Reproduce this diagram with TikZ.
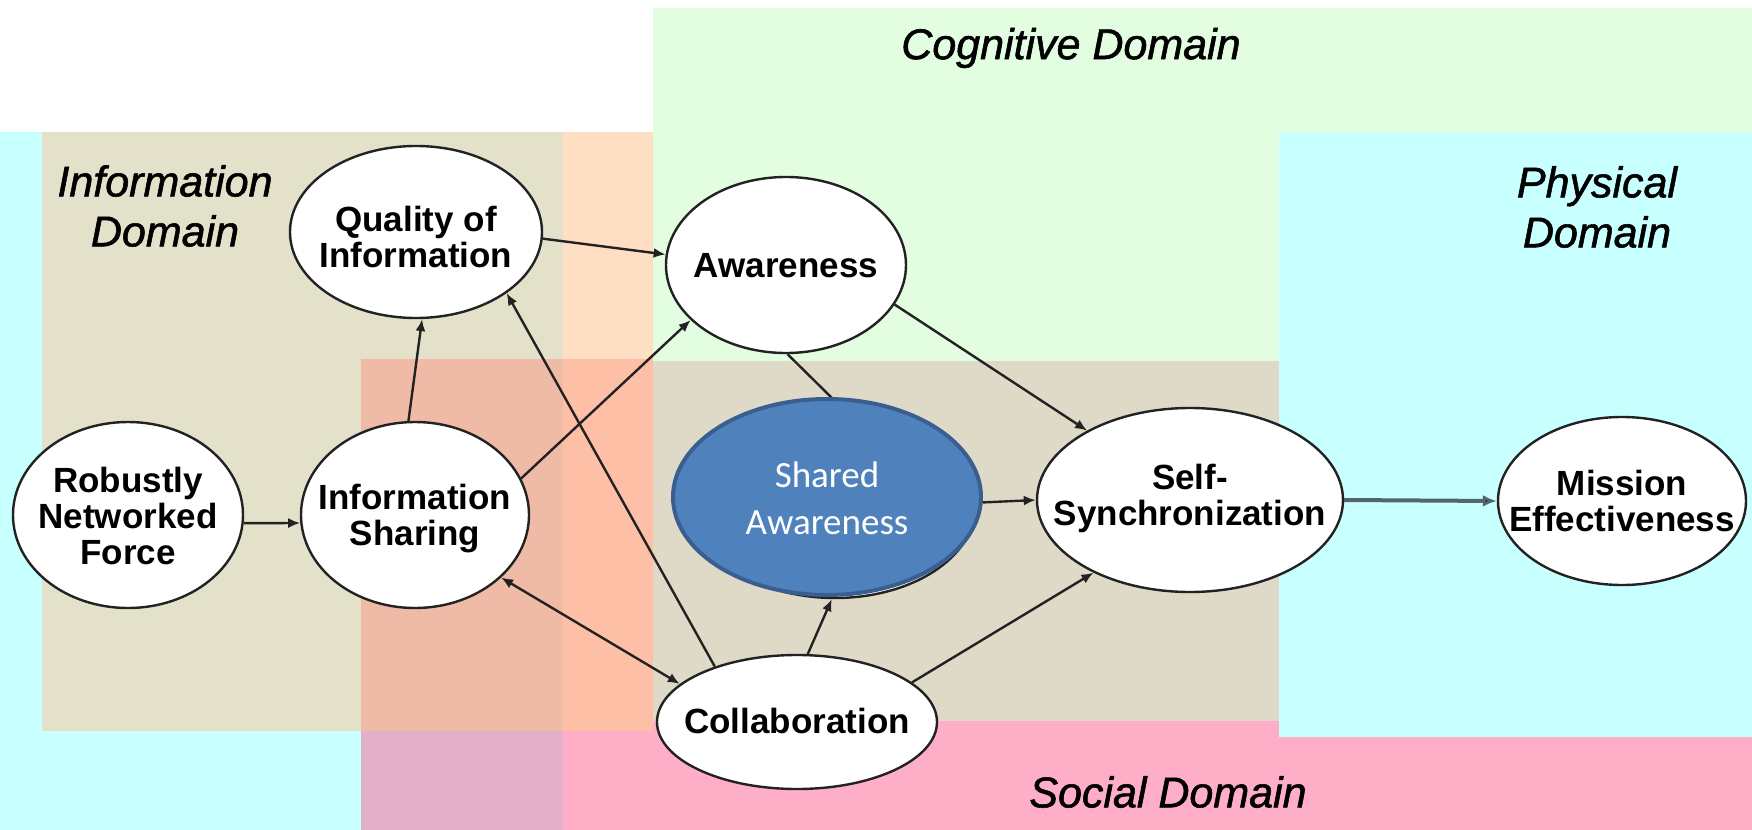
\documentclass[tikz,border=0pt]{standalone}
\usepackage{fontspec}
\setmainfont{Liberation Sans}
\newfontfamily\calib{Carlito}
\newfontfamily\domfont{Liberation Sans}[ItalicFeatures={FakeBold=1.3}]
\usetikzlibrary{shapes.geometric,arrows.meta}
\definecolor{cyanbg}{HTML}{C8FFFF}
\definecolor{tanbg}{HTML}{E3E1C9}
\definecolor{peachbg}{HTML}{FFDFC3}
\definecolor{greenbg}{HTML}{E3FDE1}
\definecolor{salmonA}{HTML}{EFBAA6}
\definecolor{salmonB}{HTML}{FDBFA6}
\definecolor{graybg}{HTML}{DFD9C7}
\definecolor{pinkbg}{HTML}{FFAEC8}
\definecolor{mauvebg}{HTML}{E3B0CA}
\definecolor{sablue}{HTML}{4F81BD}
\definecolor{saborder}{HTML}{3A5F8F}
\definecolor{linec}{HTML}{222222}
\definecolor{thickc}{HTML}{55666A}
\begin{document}
\begin{tikzpicture}[x=0.5pt,y=-0.5pt,
  ell/.style={ellipse, draw=linec, line width=1.2pt, fill=white, inner sep=0pt},
  nodetext/.style={font=\bfseries\fontsize{17.5}{18}\selectfont, align=center, text=black, inner sep=0pt},
  domtext/.style={font=\domfont\itshape\fontsize{21.5}{25}\selectfont, align=center, text=black, inner sep=0pt},
  tip/.tip={Latex[length=6pt,width=5pt]},
  conn/.style={draw=linec, line width=1.2pt, -tip}]
\useasboundingbox (0,0) rectangle (1752,830);
% domains
\fill[white] (0,0) rectangle (1752,830);
\fill[greenbg] (653,8) rectangle (1752,361);
\fill[cyanbg] (1279,132) rectangle (1752,737);
\fill[cyanbg] (0,132) rectangle (42,830);
\fill[cyanbg] (0,731) rectangle (361,830);
\fill[tanbg] (42,132) rectangle (563,731);
\fill[peachbg] (563,132) rectangle (653,359);
\fill[salmonA] (361,359) rectangle (563,731);
\fill[salmonB] (563,359) rectangle (653,731);
\fill[graybg] (653,361) rectangle (1279,721);
\fill[mauvebg] (361,731) rectangle (563,830);
\fill[pinkbg] (563,731) rectangle (653,830);
\fill[pinkbg] (653,721) rectangle (1279,830);
\fill[pinkbg] (1279,737) rectangle (1752,830);
% domain labels
\node[domtext] (cogl) at (1071,48) {Cognitive Domain};
\node[domtext] (infl) at (165,206) {Information\\Domain};
\node[domtext] (phyl) at (1597,207) {Physical\\Domain};
\node[domtext] (socl) at (1168,792) {Social Domain};
% ellipses
\node[ell, minimum width=115pt, minimum height=93pt] (rnf) at (128,515) {};
\node[ell, minimum width=114pt, minimum height=93pt] (is) at (415,515) {};
\node[ell, minimum width=126pt, minimum height=86pt] (qi) at (416,232) {};
\node[ell, minimum width=120pt, minimum height=88pt] (aw) at (786,265) {};
\node[ell, minimum width=140pt, minimum height=91pt] (saw) at (835,507) {};
\node[ell, minimum width=153pt, minimum height=92pt] (ss) at (1190,500) {};
\node[ell, minimum width=124pt, minimum height=84pt] (me) at (1622,501) {};
\node[ell, minimum width=140pt, minimum height=67pt] (co) at (797,722) {};
% connectors
\draw[conn] (rnf.-4) -- (is.184);
\draw[conn] (is.94) -- (qi.-86);
\draw[conn] (qi.-3) -- (aw.175);
\draw[conn] (is.19) -- (aw.210);
\draw[conn] (co.146) -- (qi.-34);
\draw[conn, tip-tip] (is.-36) -- (co.162);
\draw[conn] (aw.-20) -- (ss.146);
\draw[conn] (aw.-89) -- (saw.81);
\draw[conn] (co.81) -- (saw.-92);
\draw[conn] (co.19) -- (ss.217);
\draw[draw=thickc, line width=2pt, -{Latex[length=7pt,width=6pt,fill=black]}] (ss.0) -- (me.180);
% shared awareness on top
\node[ellipse, fill=sablue, draw=saborder, line width=2pt, inner sep=0pt, minimum width=154pt, minimum height=98pt] (sa) at (827,497) {};
\draw[conn] (sa.-2) -- (ss.180);
% texts
\node[nodetext] (rnft) at (128,516) {Robustly\\Networked\\Force};
\node[nodetext] (ist) at (415,519) {Information\\Sharing};
\node[nodetext] (qit) at (416,237) {Quality of\\Information};
\node[nodetext] (awt) at (786,266) {Awareness};
\node[nodetext] (sst) at (1190,498) {Self-\\Synchronization};
\node[nodetext] (met) at (1622,501) {Mission\\Effectiveness};
\node[nodetext] (cot) at (797,721) {Collaboration};
\node[font=\calib\fontsize{18.5}{23.5}\selectfont, text=white, align=center, inner sep=0pt] (sat) at (827,498) {Shared\\Awareness};
\end{tikzpicture}
\end{document}
